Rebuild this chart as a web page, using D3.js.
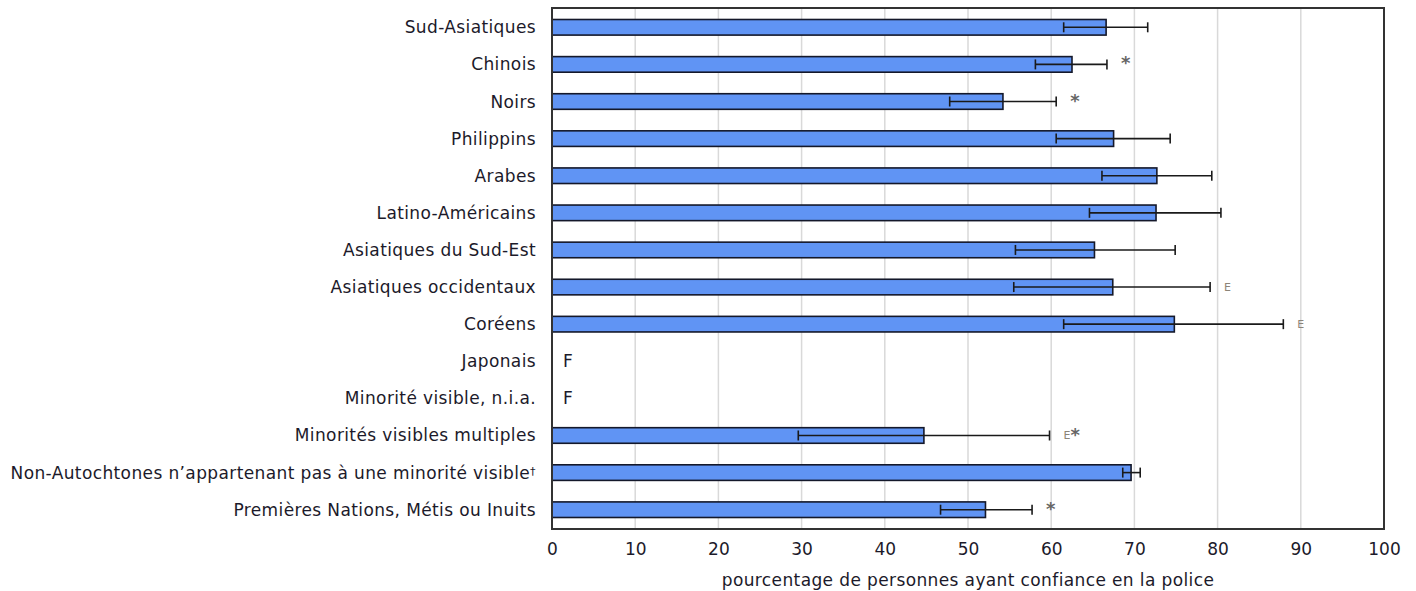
<!DOCTYPE html>
<html lang="fr">
<head>
<meta charset="utf-8">
<script src="https://cdn.jsdelivr.net/npm/d3@7"></script>
<style>
  html, body { margin: 0; padding: 0; background: #fff; }
  svg { display: block; font-family: "DejaVu Sans", Verdana, sans-serif; }
</style>
</head>
<body>
<svg id="chart" width="1416" height="591"></svg>
<script>
// Groupes de population
const categories = [
  "Sud-Asiatiques",
  "Chinois",
  "Noirs",
  "Philippins",
  "Arabes",
  "Latino-Américains",
  "Asiatiques du Sud-Est",
  "Asiatiques occidentaux",
  "Coréens",
  "Japonais",
  "Minorité visible, n.i.a.",
  "Minorités visibles multiples",
  "Non-Autochtones n’appartenant pas à une minorité visible",
  "Premières Nations, Métis ou Inuits"
];
// Pourcentage ayant confiance en la police (null = trop peu fiable pour être publié)
const values = [66.6, 62.5, 54.2, 67.5, 72.7, 72.6, 65.2, 67.4, 74.8, null, null, 44.7, 69.6, 52.1];
// Intervalles de confiance à 95 %
const lower = [61.5, 58.1, 47.8, 60.6, 66.1, 64.6, 55.7, 55.5, 61.5, null, null, 29.6, 68.6, 46.7];
const upper = [71.6, 66.7, 60.6, 74.3, 79.3, 80.4, 74.9, 79.1, 87.9, null, null, 59.8, 70.7, 57.7];
// Notes : E = à utiliser avec prudence, * = différence significative, F = trop peu fiable
const qualityFlags = ["", "", "", "", "", "", "", "E", "E", "F", "F", "E", "", ""];
const significance = ["", "*", "*", "", "", "", "", "", "", "", "", "*", "", "*"];
const referenceMark = ["", "", "", "", "", "", "", "", "", "", "", "", "†", ""];
const xTicks = [0, 10, 20, 30, 40, 50, 60, 70, 80, 90, 100];
const xTitle = "pourcentage de personnes ayant confiance en la police";

const rows = categories.map((c, i) => ({
  cat: c, v: values[i], lo: lower[i], hi: upper[i],
  flag: qualityFlags[i], sig: significance[i], ref: referenceMark[i]
}));

const FS = 17;
const LS = 0.38;
const textColor = "#1c1a2a";

const svg = d3.select("#chart");
const plot = { left: 552, right: 1384, top: 8, bottom: 529 };

const x = d3.scaleLinear().domain([0, 100]).range([plot.left, plot.right]);
const y = d3.scaleBand().domain(categories).range([plot.top, plot.bottom])
  .paddingInner(0.58).paddingOuter(0.31);

// Grille verticale
svg.append("g")
  .selectAll("line")
  .data(xTicks.filter(t => t > 0 && t < 100))
  .join("line")
  .attr("x1", d => x(d)).attr("x2", d => x(d))
  .attr("y1", plot.top).attr("y2", plot.bottom)
  .attr("stroke", "#d9d9d9").attr("stroke-width", 1.5);

// Barres
svg.append("g")
  .selectAll("rect")
  .data(rows.filter(r => r.v != null))
  .join("rect")
  .attr("x", x(0))
  .attr("y", d => y(d.cat))
  .attr("width", d => x(d.v) - x(0))
  .attr("height", y.bandwidth())
  .attr("fill", "#6094f4")
  .attr("stroke", "#14182a")
  .attr("stroke-width", 1.6);

// Barres d'erreur
const eb = svg.append("g").attr("stroke", "#1a1a1a").attr("stroke-width", 1.6);
rows.filter(r => r.lo != null).forEach(r => {
  const cy = y(r.cat) + y.bandwidth() / 2;
  eb.append("line").attr("x1", x(r.lo)).attr("x2", x(r.hi)).attr("y1", cy).attr("y2", cy);
  [r.lo, r.hi].forEach(v => {
    eb.append("line").attr("x1", x(v)).attr("x2", x(v)).attr("y1", cy - 5).attr("y2", cy + 5);
  });
});

// Notes à droite des intervalles
rows.filter(r => r.lo != null && (r.flag || r.sig)).forEach(r => {
  const cy = y(r.cat) + y.bandwidth() / 2;
  const t = svg.append("text")
    .attr("x", x(r.hi) + 14)
    .attr("y", cy + 4)
    .attr("text-anchor", "start");
  if (r.flag) t.append("tspan").text(r.flag).attr("font-size", 11).attr("fill", "#8c8478");
  if (r.sig) t.append("tspan").text(r.sig).attr("font-size", 18).attr("font-weight", "bold")
    .attr("fill", "#666").attr("dy", r.flag ? 2 : 1);
});

// Valeurs non publiées (F)
rows.filter(r => r.v == null).forEach(r => {
  svg.append("text")
    .attr("x", x(0) + 16)
    .attr("y", y(r.cat) + y.bandwidth() / 2 + 6)
    .attr("text-anchor", "middle")
    .attr("font-size", FS)
    .attr("fill", textColor)
    .text(r.flag);
});

// Cadre de la zone de tracé
svg.append("rect")
  .attr("x", plot.left).attr("y", plot.top)
  .attr("width", plot.right - plot.left).attr("height", plot.bottom - plot.top)
  .attr("fill", "none").attr("stroke", "#333").attr("stroke-width", 2);

// Étiquettes des catégories
const yLabels = svg.append("g")
  .selectAll("text")
  .data(rows)
  .join("text")
  .attr("x", plot.left - 16)
  .attr("y", d => y(d.cat) + y.bandwidth() / 2 + 6)
  .attr("text-anchor", "end")
  .attr("font-size", FS)
  .attr("letter-spacing", LS)
  .attr("fill", textColor);
yLabels.append("tspan").text(d => d.cat);
yLabels.filter(d => d.ref).append("tspan")
  .attr("font-size", 11).attr("dy", -4).text(d => d.ref);

// Axe des x
const xAxis = d3.axisBottom(x).tickValues(xTicks).tickSize(0).tickPadding(0);
const gx = svg.append("g").attr("transform", `translate(0,${plot.bottom})`).call(xAxis);
gx.select(".domain").remove();
gx.selectAll("text")
  .attr("y", 26)
  .attr("dy", 0)
  .attr("font-size", FS)
  .attr("font-family", "DejaVu Sans, Verdana, sans-serif")
  .attr("fill", textColor);

svg.append("text")
  .attr("x", (plot.left + plot.right) / 2)
  .attr("y", 586)
  .attr("text-anchor", "middle")
  .attr("font-size", FS)
  .attr("letter-spacing", LS)
  .attr("fill", textColor)
  .text(xTitle);
</script>
</body>
</html>
